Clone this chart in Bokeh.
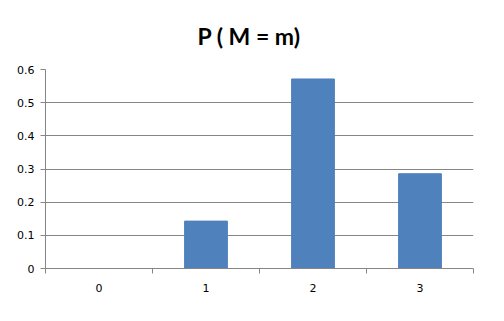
from bokeh.plotting import figure
from bokeh.models import FixedTicker, Range1d, Title, ColumnDataSource
from bokeh.embed import file_html
from bokeh.resources import INLINE

# Data
categories = [0, 1, 2, 3]
category_labels = ["0", "1", "2", "3"]
probabilities = [0.0, 0.142857, 0.571429, 0.285714]
y_ticks = [0, 0.1, 0.2, 0.3, 0.4, 0.5, 0.6]

source = ColumnDataSource(dict(m=categories, p=probabilities))

p = figure(width=504, height=321, output_backend="svg", toolbar_location=None,
           x_range=Range1d(-0.5, 3.5), y_range=Range1d(0, 0.6),
           min_border_left=45, min_border_right=31, min_border_top=69, min_border_bottom=53)
p.title = None
t = Title(text="P ( M = m)", align="left", text_font="Lato", text_font_size="23px",
          text_font_style="bold", text_color="#000000", offset=152, standoff=39)
p.add_layout(t, "above")

p.vbar(x="m", top="p", width=0.4, source=source, color="#4F81BD")

p.background_fill_color = "white"
p.border_fill_color = "white"
p.outline_line_color = None

# y axis
p.yaxis.ticker = FixedTicker(ticks=y_ticks)
p.yaxis.major_label_overrides = {v: ("0" if v == 0 else f"{v:.1f}") for v in y_ticks}
p.yaxis.axis_line_color = "#868686"
p.yaxis.major_tick_line_color = "#868686"
p.yaxis.major_tick_out = 5
p.yaxis.major_tick_in = 0
p.yaxis.minor_tick_line_color = None
p.yaxis.major_label_text_font = "DejaVu Sans"
p.yaxis.major_label_text_font_size = "11px"
p.yaxis.major_label_text_color = "#000000"
p.yaxis.major_label_standoff = 6

# x axis: labels at centers, tick marks between categories
p.xaxis.ticker = FixedTicker(ticks=categories, minor_ticks=[-0.5, 0.5, 1.5, 2.5, 3.5])
p.xaxis.major_label_overrides = {c: l for c, l in zip(categories, category_labels)}
p.xaxis.axis_line_color = "#868686"
p.xaxis.major_tick_line_color = None
p.xaxis.minor_tick_line_color = "#868686"
p.xaxis.minor_tick_out = 5
p.xaxis.minor_tick_in = 0
p.xaxis.major_label_text_font = "DejaVu Sans"
p.xaxis.major_label_text_font_size = "11px"
p.xaxis.major_label_text_color = "#000000"
p.xaxis.major_label_standoff = 9

p.xgrid.grid_line_color = None
p.ygrid.grid_line_color = "#868686"
p.ygrid.grid_line_width = 1

open("out.html", "w").write(file_html(p, INLINE))
